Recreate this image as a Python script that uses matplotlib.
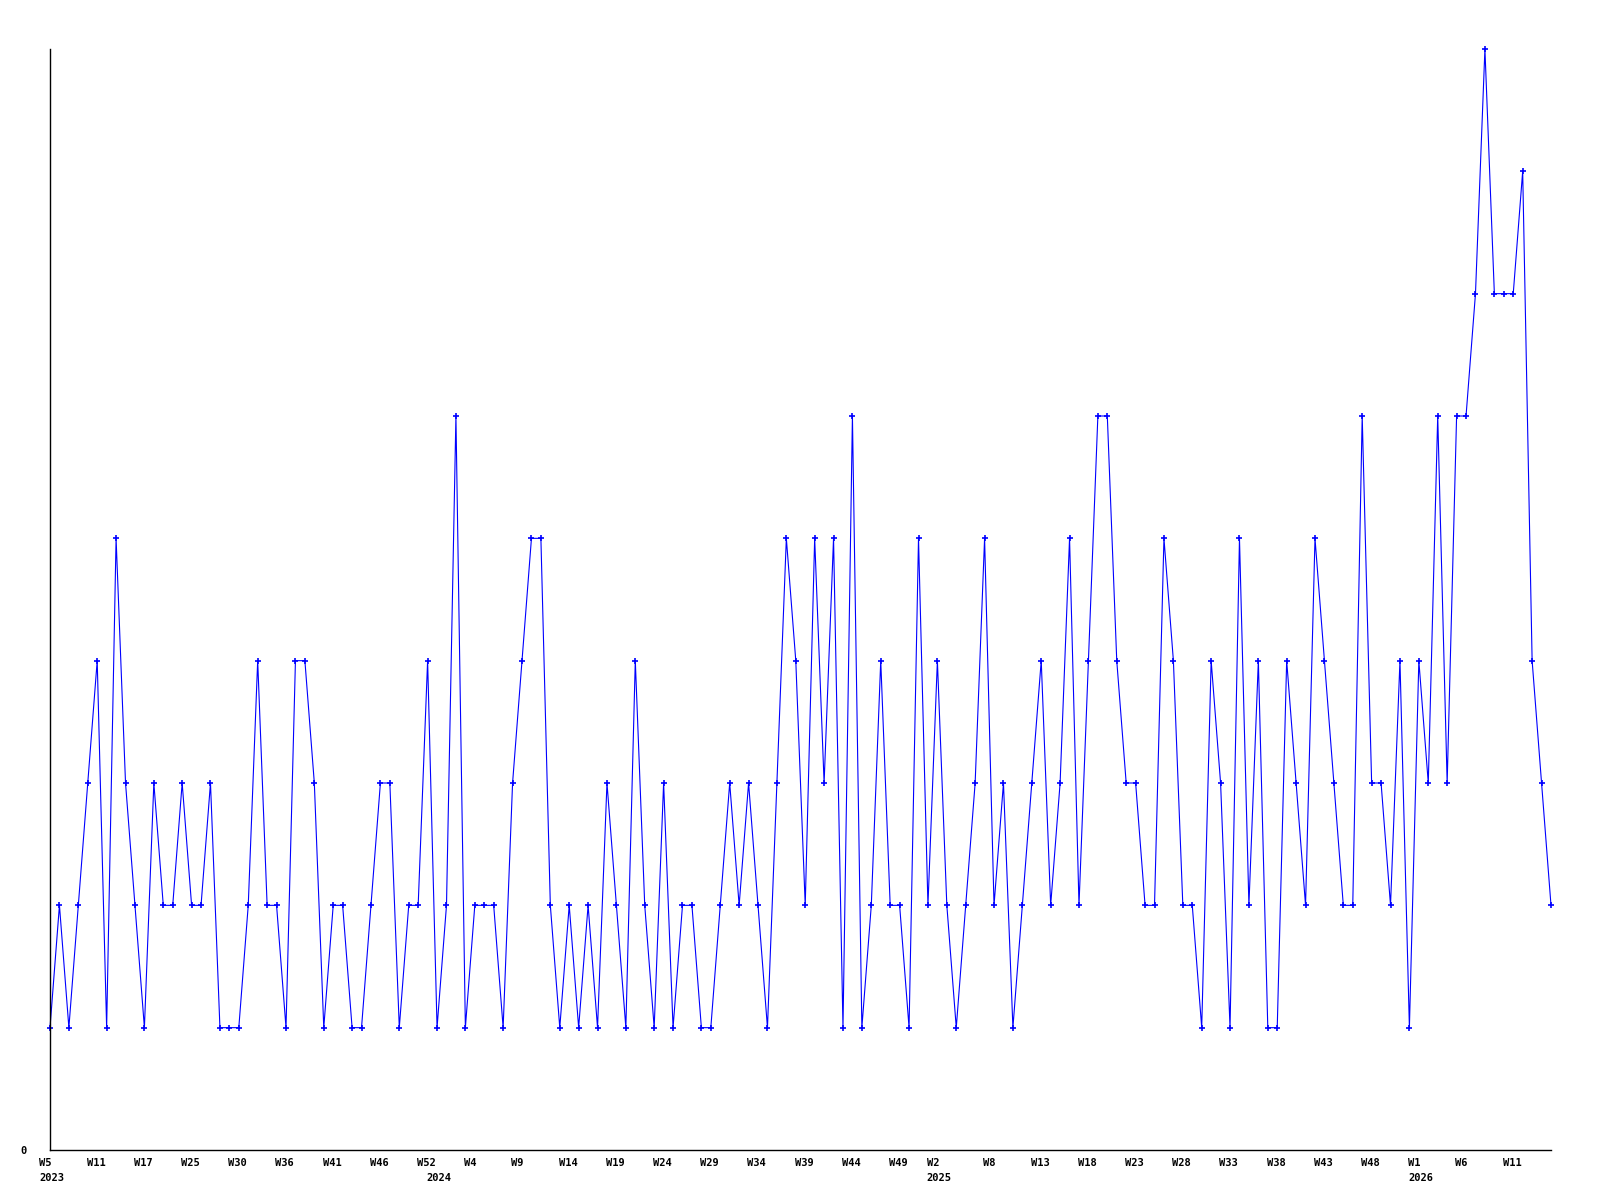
import matplotlib
matplotlib.use('Agg')
import matplotlib.pyplot as plt

# weekly counts, one per point
values = [1, 2, 1, 2, 3, 4, 1, 5, 3, 2, 1, 3, 2, 2, 3, 2, 2, 3, 1, 1, 1, 2, 4, 2, 2, 1, 4, 4, 3, 1, 2, 2, 1, 1, 2, 3, 3, 1, 2, 2, 4,
          1, 2, 6, 1, 2, 2, 2, 1, 3, 4, 5, 5, 2, 1, 2, 1, 2, 1, 3, 2,
          1, 4, 2, 1, 3, 1, 2, 2, 1, 1, 2, 3, 2, 3, 2, 1, 3, 5, 4, 2,
          5, 3, 5, 1, 6, 1, 2, 4, 2, 2, 1, 5, 2, 4, 2, 1, 2, 3, 5, 2,
          3, 1, 2, 3, 4, 2, 3, 5, 2, 4, 6, 6, 4, 3, 3, 2, 2, 5, 4, 2,
          2, 1, 4, 3, 1, 5, 2, 4, 1, 1, 4, 3, 2, 5, 4, 3, 2, 2, 6, 3, 3,
          2, 4, 1, 4, 3, 6, 3, 6, 6, 7, 9, 7, 7, 7, 8, 4, 3, 2]

week_pos = list(range(0, 91, 5)) + [94] + list(range(100, 156, 5))
week_labels = ['W5', 'W11', 'W17', 'W25', 'W30', 'W36', 'W41', 'W46', 'W52',
               'W4', 'W9', 'W14', 'W19', 'W24', 'W29', 'W34', 'W39', 'W44', 'W49',
               'W2', 'W8', 'W13', 'W18', 'W23', 'W28', 'W33', 'W38', 'W43', 'W48',
               'W1', 'W6', 'W11']
year_pos = [0, 41, 94, 145]
year_labels = ['2023', '2024', '2025', '2026']

x = list(range(len(values)))

fig = plt.figure(figsize=(16, 12), dpi=100)
ax = fig.add_axes([50 / 1600, 1 - 1150 / 1200, 1501 / 1600, 1101 / 1200])

ax.plot(x, values, color='#0000ff', lw=0.8, marker='+', ms=4, mew=1.2, clip_on=False)

ax.set_xlim(0, len(values) - 1)
ax.set_ylim(0, 9)
for s in ['top', 'right']:
    ax.spines[s].set_visible(False)
for s in ['left', 'bottom']:
    ax.spines[s].set_linewidth(1)
    ax.spines[s].set_color('black')

ax.set_xticks([])
ax.set_yticks([0])
ax.set_yticklabels(['0'], fontsize=7.5, fontweight='bold', family='DejaVu Sans Mono')
ax.tick_params(axis='y', length=0, pad=17)

lab_style = dict(ha='left', va='top', fontsize=7.5, fontweight='bold',
                 family='DejaVu Sans Mono', annotation_clip=False)
for p, lab in zip(week_pos, week_labels):
    ax.annotate(lab, xy=(p, 0), xycoords=('data', 'axes fraction'),
                xytext=(-7.7, -6), textcoords='offset points', **lab_style)
for p, lab in zip(year_pos, year_labels):
    ax.annotate(lab, xy=(p, 0), xycoords=('data', 'axes fraction'),
                xytext=(-7.7, -16.5), textcoords='offset points', **lab_style)

fig.savefig('out.png', dpi=100, facecolor='white')
